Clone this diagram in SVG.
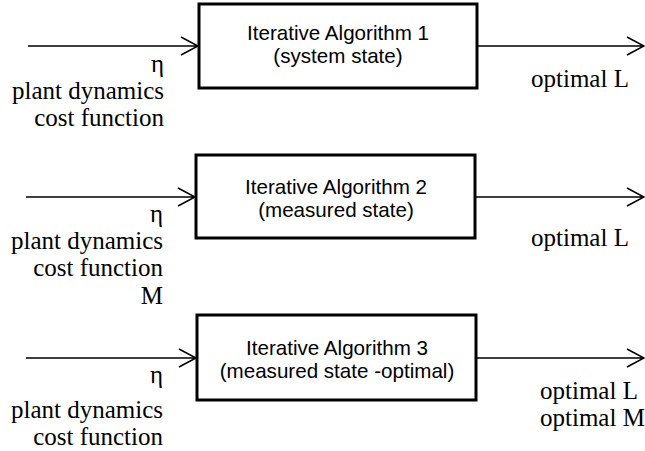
<svg xmlns="http://www.w3.org/2000/svg" width="645" height="451" viewBox="0 0 645 451">
<style>
.box{fill:#fff;stroke:#000;stroke-width:3}
.ln{fill:none;stroke:#000;stroke-width:1.5}
.sans{font-family:"Liberation Sans",Arial,sans-serif;font-size:20.6px;text-anchor:middle;fill:#000}
.ser{font-family:"Liberation Serif","Times New Roman",serif;font-size:25px;fill:#000}
.r{text-anchor:end}
</style>
<rect width="645" height="451" fill="#fff"/>
<g id="connectors">
<path class="ln" d="M28,46H198M181,37L198,46L181,55"/>
<path class="ln" d="M477,46H644M627,37L644,46L627,55"/>
<path class="ln" d="M26,197H195M178,188L195,197L178,206"/>
<path class="ln" d="M475,197H644M627,188L644,197L627,206"/>
<path class="ln" d="M26,358H196M179,349L196,358L179,367"/>
<path class="ln" d="M476,358H644M627,349L644,358L627,367"/>
</g>
<g id="node1">
<rect class="box" x="199" y="4" width="278" height="84"/>
<text class="sans" x="338" y="40">Iterative Algorithm 1</text>
<text class="sans" x="338" y="63">(system state)</text>
</g>
<g id="node2">
<rect class="box" x="196" y="155" width="279" height="83"/>
<text class="sans" x="336" y="194">Iterative Algorithm 2</text>
<text class="sans" x="336" y="217">(measured state)</text>
</g>
<g id="node3">
<rect class="box" x="197" y="315" width="279" height="85"/>
<text class="sans" x="337" y="355">Iterative Algorithm 3</text>
<text class="sans" x="337" y="378">(measured state -optimal)</text>
</g>
<g id="labels">
<text class="ser r" x="164" y="72">η</text>
<text class="ser r" x="164" y="99">plant dynamics</text>
<text class="ser r" x="164" y="126">cost function</text>
<text class="ser" x="531" y="87">optimal L</text>
<text class="ser r" x="163" y="222">η</text>
<text class="ser r" x="163" y="249">plant dynamics</text>
<text class="ser r" x="163" y="276">cost function</text>
<text class="ser r" x="163" y="304">M</text>
<text class="ser" x="531" y="246">optimal L</text>
<text class="ser r" x="163" y="383">η</text>
<text class="ser r" x="163" y="418">plant dynamics</text>
<text class="ser r" x="163" y="445">cost function</text>
<text class="ser" x="540" y="399">optimal L</text>
<text class="ser" x="540" y="426">optimal M</text>
</g>
</svg>
